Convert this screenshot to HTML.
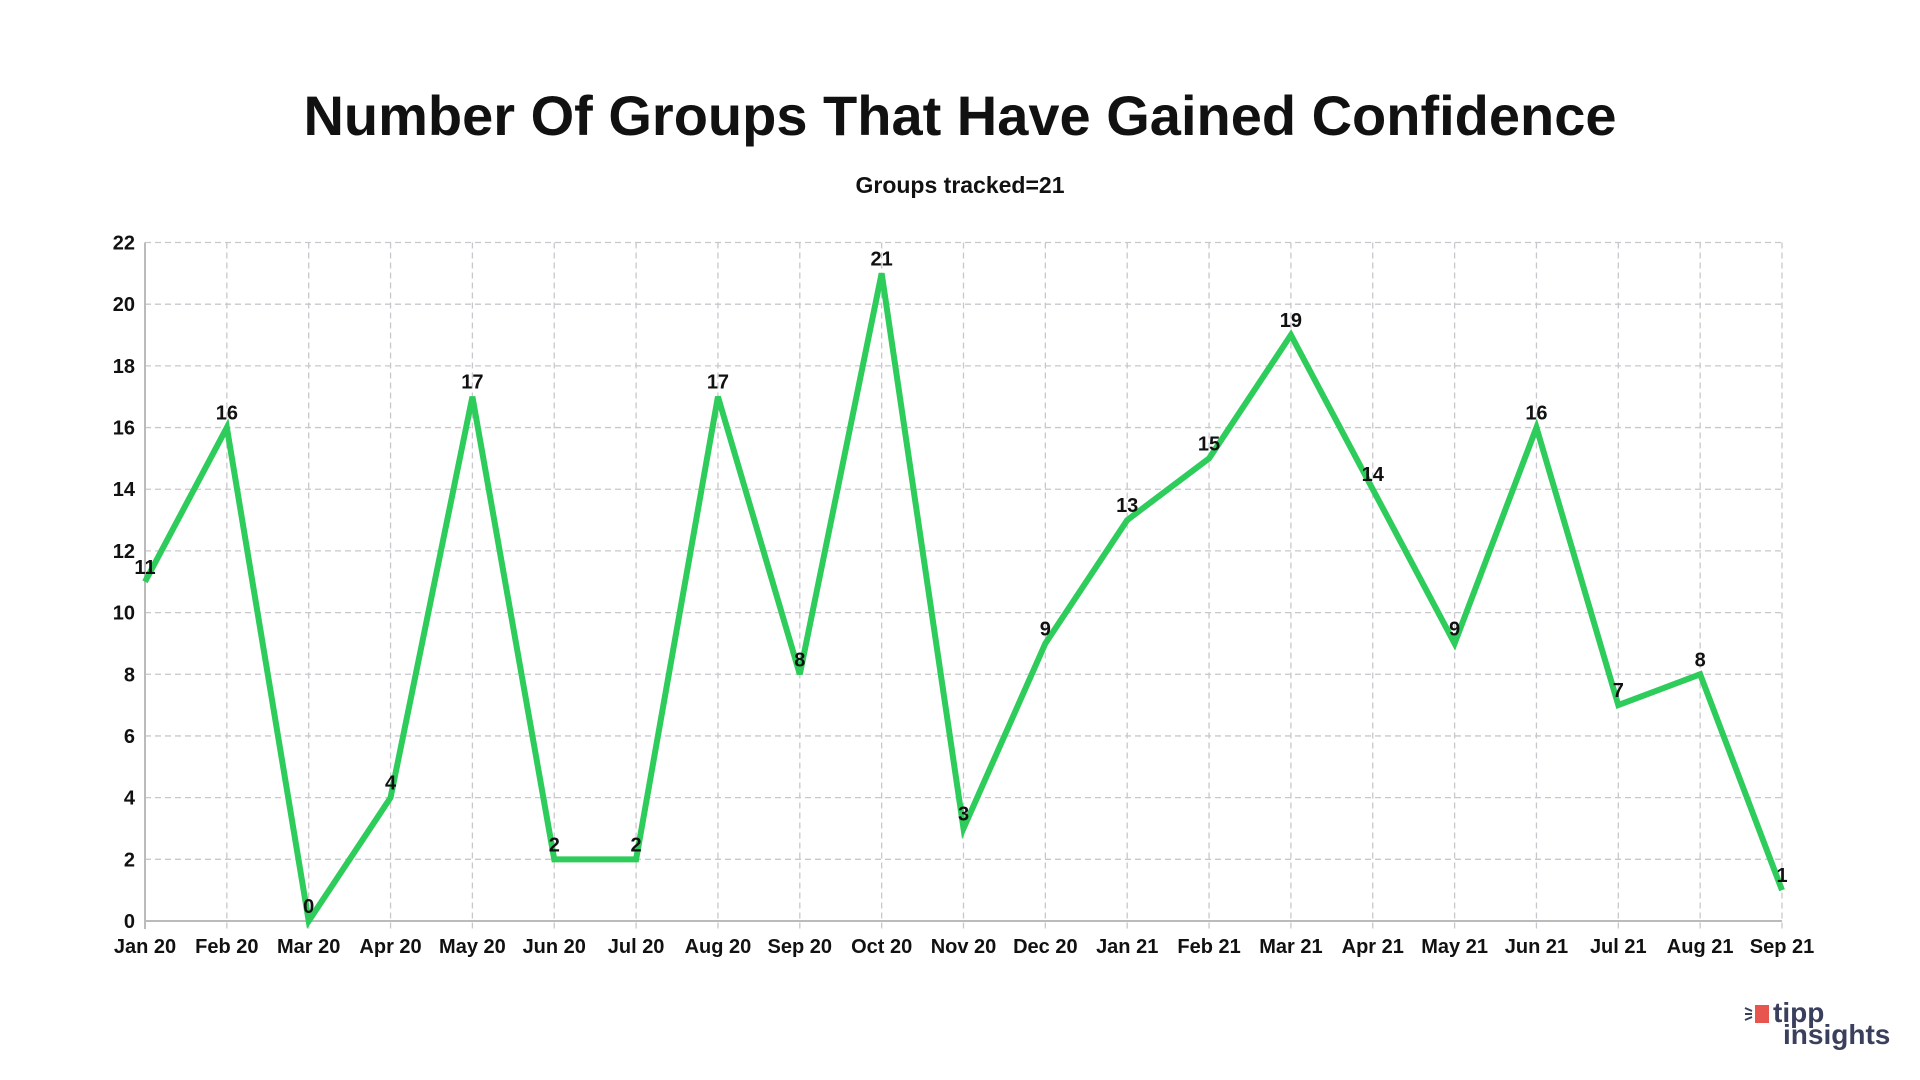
<!DOCTYPE html>
<html><head><meta charset="utf-8"><style>
body{margin:0;background:#fff;width:1920px;height:1080px;overflow:hidden}
svg{display:block}
</style></head><body>
<svg width="1920" height="1080" xmlns="http://www.w3.org/2000/svg" font-family="Liberation Sans, DejaVu Sans, sans-serif">
<text x="960" y="135" text-anchor="middle" font-size="56" font-weight="bold" fill="#111">Number Of Groups That Have Gained Confidence</text>
<text x="960" y="193" text-anchor="middle" font-size="23" font-weight="bold" fill="#111">Groups tracked=21</text>
<g id="grid" stroke="#c8c8cc" stroke-width="1.3" stroke-dasharray="6,4"></g>
<g id="lbl"></g>
<polyline id="line" fill="none" stroke="#2ecc5a" stroke-width="6" stroke-linejoin="miter"/>
<g id="dl" font-size="20" font-weight="bold" fill="#111" text-anchor="middle"></g>
<g transform="translate(1745,1000)">
<rect x="10" y="5" width="14" height="18" fill="#e8554e"/>
<path d="M0 8 L7 11 M0 14 L7 14 M0 20 L7 17" stroke="#3a3f5c" stroke-width="2"/>
<text x="28" y="22" font-size="28" font-weight="bold" fill="#3a3f5c">tipp</text>
<text x="38" y="44" font-size="28" font-weight="bold" fill="#3a3f5c">insights</text>
</g>
</svg>
<script>
const d=[11,16,0,4,17,2,2,17,8,21,3,9,13,15,19,14,9,16,7,8,1];
const m=["Jan 20","Feb 20","Mar 20","Apr 20","May 20","Jun 20","Jul 20","Aug 20","Sep 20","Oct 20","Nov 20","Dec 20","Jan 21","Feb 21","Mar 21","Apr 21","May 21","Jun 21","Jul 21","Aug 21","Sep 21"];
const x0=145,x1=1782,y0=921,yt=242.5;
const X=i=>x0+(x1-x0)*i/20, Y=v=>y0-(y0-yt)*v/22;
const ns="http://www.w3.org/2000/svg";
const g=document.getElementById("grid"),l=document.getElementById("lbl"),dl=document.getElementById("dl");
function el(p,t,a,txt){const e=document.createElementNS(ns,t);for(const k in a)e.setAttribute(k,a[k]);if(txt!=null)e.textContent=txt;p.appendChild(e);return e;}
for(let v=2;v<=22;v+=2)el(g,"line",{x1:x0,x2:x1,y1:Y(v),y2:Y(v)});
for(let i=1;i<21;i++)el(g,"line",{x1:X(i),x2:X(i),y1:yt,y2:y0+8});
el(l,"line",{x1:x0,x2:x0,y1:yt,y2:y0+8,stroke:"#bbb","stroke-width":2});
el(l,"line",{x1:x0,x2:x1,y1:y0,y2:y0,stroke:"#bbb","stroke-width":2});
for(let v=0;v<=22;v+=2)el(l,"text",{x:x0-10,y:Y(v)+7,"text-anchor":"end","font-size":20,"font-weight":"bold",fill:"#111"},v);
m.forEach((s,i)=>el(l,"text",{x:X(i),y:y0+32,"text-anchor":"middle","font-size":20,"font-weight":"bold",fill:"#111"},s));
document.getElementById("line").setAttribute("points",d.map((v,i)=>X(i)+","+Y(v)).join(" "));
d.forEach((v,i)=>el(dl,"text",{x:X(i),y:Y(v)-8},v));
</script>
</body></html>
